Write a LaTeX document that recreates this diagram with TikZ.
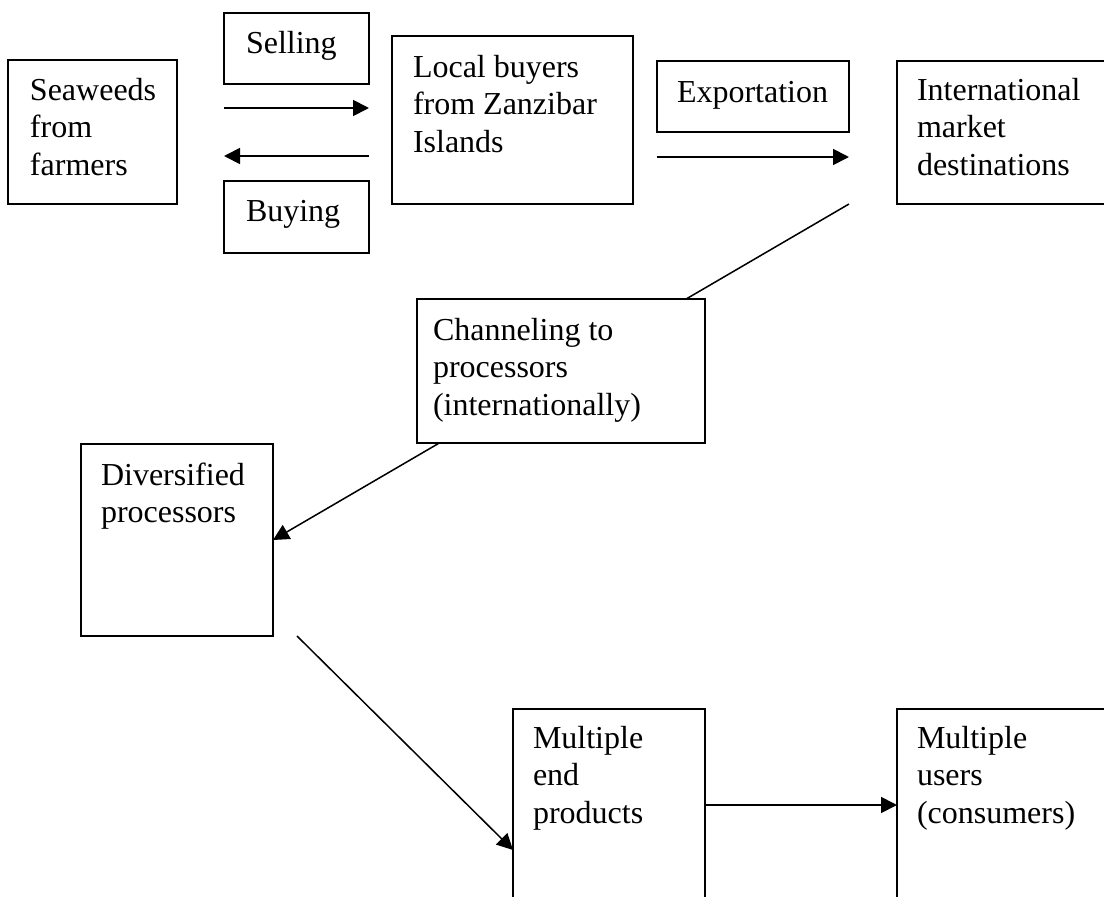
\documentclass[tikz,border=0pt]{standalone}
\usepackage{fontspec}
\setmainfont{Liberation Serif}
\usetikzlibrary{arrows.meta,calc}
% left-aligned lines whose first baseline is the node's baseline
\newcommand{\stackedlines}[1]{\begin{tabular}[t]{@{}l@{}}#1\end{tabular}}
\begin{document}
\begin{tikzpicture}[x=1pt,y=-1pt,
  font=\fontsize{32}{37.5}\selectfont,
  panel/.style={draw, line width=1.8pt, fill=white, inner sep=0pt, outer sep=0pt, anchor=north west},
  caption/.style={anchor=base west, inner sep=0pt, outer sep=0pt},
  tip/.style={-{Triangle[length=16pt,width=16pt]}},
  flow/.style={tip, line width=1.8pt},
  slant/.style={line width=1.5pt}]
\useasboundingbox (0,0) rectangle (1104,897);
\clip (0,0) rectangle (1104,897);

% top row
\node[panel, minimum width=169pt, minimum height=144pt] (sea) at (8,60) {};
\node[caption] at ($(sea.north west)+(22,40)$) {\stackedlines{Seaweeds\\from\\farmers}};

\node[panel, minimum width=145pt, minimum height=71pt] (sell) at (224,13) {};
\node[caption] at ($(sell.north west)+(22,40)$) {Selling};

\node[panel, minimum width=145pt, minimum height=72pt] (buy) at (224,181) {};
\node[caption] at ($(buy.north west)+(22,40)$) {Buying};

\node[panel, minimum width=241pt, minimum height=168pt] (local) at (392,36) {};
\node[caption] at ($(local.north west)+(21,41)$) {\stackedlines{Local buyers\\from Zanzibar\\Islands}};

\node[panel, minimum width=192pt, minimum height=71pt] (export) at (657,61) {};
\node[caption] at ($(export.north west)+(20,41)$) {Exportation};

\node[panel, minimum width=233pt, minimum height=143pt] (intl) at (897,61) {};
\node[caption] at ($(intl.north west)+(20,39)$) {\stackedlines{International\\market\\destinations}};

% selling / buying / exporting flows
\coordinate (sellA) at ($(sell.south west)+(0,24)$);
\coordinate (sellB) at ($(sell.south east)+(0,24)$);
\draw[flow] (sellA) -- (sellB);

\coordinate (buyA) at ($(buy.north east)+(0,-25)$);
\coordinate (buyB) at ($(buy.north west)+(0,-25)$);
\draw[flow] (buyA) -- (buyB);

\coordinate (expA) at ($(export.south west)+(0,25)$);
\coordinate (expB) at ($(export.south east)+(0,25)$);
\draw[flow] (expA) -- (expB);

% processing chain
\node[panel, minimum width=192pt, minimum height=192pt] (div) at (81,444) {};
\node[caption] at ($(div.north west)+(20,41)$) {\stackedlines{Diversified\\processors}};

\coordinate (chanA) at ($(intl.south west)+(-48,0)$);
\draw[slant, tip] (chanA) -- (div.east);

\node[panel, minimum width=288pt, minimum height=144pt] (chan) at (417,299) {};
\node[caption] at ($(chan.north west)+(16,41)$) {\stackedlines{Channeling to\\processors\\(internationally)}};

% end products and users
\node[panel, minimum width=192pt, minimum height=240pt] (prod) at (513,709) {};
\node[caption] at ($(prod.north west)+(20,39)$) {\stackedlines{Multiple\\end\\products}};

\node[panel, minimum width=233pt, minimum height=240pt] (users) at (897,709) {};
\node[caption] at ($(users.north west)+(20,39)$) {\stackedlines{Multiple\\users\\(consumers)}};

\coordinate (prodA) at ($(div.south east)+(24,0)$);
\coordinate (prodB) at ($(prod.north west)+(0,141)$);
\draw[slant, tip] (prodA) -- (prodB);

\coordinate (useA) at ($(prod.north east)+(0,96)$);
\coordinate (useB) at ($(users.north west)+(0,96)$);
\draw[flow] (useA) -- (useB);
\end{tikzpicture}
\end{document}
